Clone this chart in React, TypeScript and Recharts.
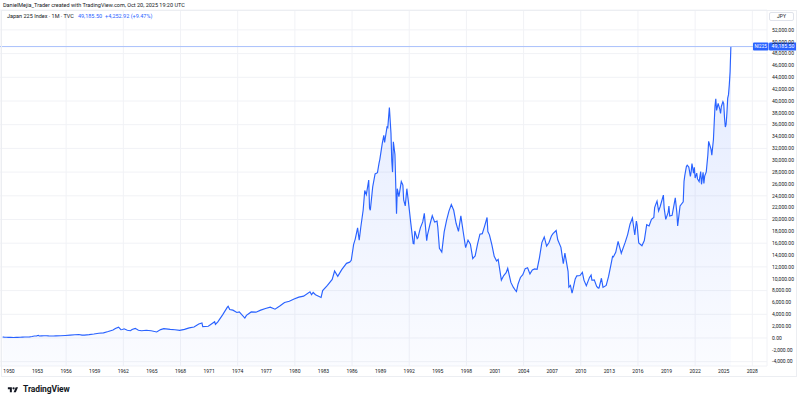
import React from 'react';
import { ComposedChart, Area, XAxis, YAxis, CartesianGrid, ReferenceLine } from 'recharts';

type Pt = [string, number];

const closes1949to1969: Pt[] = [
  ['1949-05', 176], ['1949-07', 140], ['1949-10', 130], ['1949-12', 109],
  ['1950-03', 100], ['1950-07', 85], ['1950-10', 100], ['1950-12', 102],
  ['1951-03', 120], ['1951-06', 150], ['1951-09', 165], ['1951-12', 166],
  ['1952-03', 200], ['1952-06', 260], ['1952-09', 330], ['1952-12', 362],
  ['1953-02', 455], ['1953-03', 340], ['1953-06', 360], ['1953-09', 380], ['1953-12', 377],
  ['1954-03', 350], ['1954-06', 340], ['1954-09', 330], ['1954-12', 356],
  ['1955-06', 380], ['1955-12', 425],
  ['1956-06', 480], ['1956-12', 549],
  ['1957-05', 590], ['1957-09', 480], ['1957-12', 474],
  ['1958-06', 560], ['1958-12', 666],
  ['1959-06', 800], ['1959-12', 874],
  ['1960-06', 1100], ['1960-12', 1356],
  ['1961-03', 1600], ['1961-07', 1829], ['1961-10', 1400], ['1961-12', 1432],
  ['1962-02', 1550], ['1962-06', 1300], ['1962-10', 1220], ['1962-12', 1420],
  ['1963-04', 1630], ['1963-08', 1300], ['1963-12', 1225],
  ['1964-06', 1300], ['1964-12', 1216],
  ['1965-07', 1020], ['1965-12', 1417],
  ['1966-04', 1580], ['1966-12', 1452],
  ['1967-06', 1400], ['1967-12', 1283],
  ['1968-06', 1450], ['1968-12', 1714],
  ['1969-06', 1850], ['1969-12', 2358],
];

const closes1970to1989: Pt[] = [
  ['1970-04', 2534], ['1970-05', 1929], ['1970-12', 1987],
  ['1971-08', 2740], ['1971-09', 2300], ['1971-12', 2714],
  ['1972-06', 3900], ['1972-12', 5208],
  ['1973-01', 5359], ['1973-03', 4800], ['1973-07', 4700], ['1973-12', 4307],
  ['1974-03', 4400], ['1974-10', 3355], ['1974-12', 3817],
  ['1975-06', 4400], ['1975-12', 4359],
  ['1976-06', 4700], ['1976-12', 4991],
  ['1977-06', 5200], ['1977-12', 4866],
  ['1978-06', 5400], ['1978-12', 6002],
  ['1979-06', 6200], ['1979-12', 6570],
  ['1980-06', 6900], ['1980-12', 7063],
  ['1981-08', 7800], ['1981-10', 7300], ['1981-12', 7682],
  ['1982-03', 7300], ['1982-10', 6849], ['1982-12', 8017],
  ['1983-06', 8900], ['1983-12', 9894],
  ['1984-03', 11300], ['1984-07', 10400], ['1984-12', 11543],
  ['1985-06', 12600], ['1985-10', 12800], ['1985-12', 13113],
  ['1986-03', 15800], ['1986-05', 16700], ['1986-08', 18600], ['1986-10', 16500], ['1986-12', 18701],
  ['1987-03', 21600], ['1987-05', 24900], ['1987-07', 24200], ['1987-10', 26646], ['1987-11', 21910], ['1987-12', 21564],
  ['1988-03', 25500], ['1988-06', 27700], ['1988-09', 27900], ['1988-11', 29500], ['1988-12', 30159],
  ['1989-03', 32800], ['1989-05', 34200], ['1989-06', 33000], ['1989-09', 35600], ['1989-10', 35500], ['1989-12', 38916],
];

const closes1990to2009: Pt[] = [
  ['1990-02', 34600], ['1990-03', 29980], ['1990-04', 28000], ['1990-05', 33100], ['1990-07', 31000], ['1990-09', 20984], ['1990-10', 25194], ['1990-12', 23849],
  ['1991-03', 26400], ['1991-05', 25800], ['1991-06', 23300], ['1991-08', 22300], ['1991-10', 25200], ['1991-12', 22984],
  ['1992-03', 19346], ['1992-06', 15951], ['1992-07', 15910], ['1992-08', 18061], ['1992-11', 16767], ['1992-12', 16925],
  ['1993-03', 18591], ['1993-06', 19590], ['1993-08', 21027], ['1993-11', 16408], ['1993-12', 17417],
  ['1994-03', 19112], ['1994-06', 20644], ['1994-09', 19564], ['1994-12', 19723],
  ['1995-01', 18650], ['1995-03', 15140], ['1995-06', 14517], ['1995-09', 17913], ['1995-12', 19868],
  ['1996-03', 21407], ['1996-06', 22531], ['1996-09', 21556], ['1996-12', 19361],
  ['1997-03', 18003], ['1997-06', 20605], ['1997-09', 17888], ['1997-12', 15259],
  ['1998-03', 16527], ['1998-06', 15830], ['1998-09', 13406], ['1998-10', 13564], ['1998-12', 13842],
  ['1999-03', 15837], ['1999-06', 17530], ['1999-09', 17605], ['1999-12', 18934],
  ['2000-03', 20337], ['2000-04', 17974], ['2000-06', 17411], ['2000-09', 15747], ['2000-12', 13786],
  ['2001-03', 12999], ['2001-05', 13262], ['2001-09', 9775], ['2001-12', 10543],
  ['2002-03', 11025], ['2002-05', 11764], ['2002-09', 9383], ['2002-12', 8579],
  ['2003-03', 7973], ['2003-04', 7831], ['2003-06', 9083], ['2003-09', 10219], ['2003-12', 10677],
  ['2004-03', 11715], ['2004-06', 11859], ['2004-09', 10824], ['2004-12', 11489],
  ['2005-03', 11669], ['2005-06', 11584], ['2005-09', 13574], ['2005-12', 16111],
  ['2006-03', 17060], ['2006-06', 15505], ['2006-09', 16128], ['2006-12', 17226],
  ['2007-02', 17604], ['2007-06', 18138], ['2007-08', 16569], ['2007-12', 15308],
  ['2008-03', 12526], ['2008-05', 14338], ['2008-09', 11260], ['2008-10', 8577], ['2008-12', 8860],
  ['2009-02', 7568], ['2009-03', 8110], ['2009-06', 9958], ['2009-08', 10493], ['2009-12', 10546],
];

const closes2010to2025: Pt[] = [
  ['2010-03', 11090], ['2010-05', 9769], ['2010-08', 8824], ['2010-12', 10229],
  ['2011-02', 10624], ['2011-03', 9755], ['2011-06', 9816], ['2011-09', 8700], ['2011-11', 8435], ['2011-12', 8455],
  ['2012-03', 10084], ['2012-05', 8543], ['2012-09', 8870], ['2012-12', 10395],
  ['2013-03', 12398], ['2013-05', 13775], ['2013-06', 13677], ['2013-09', 14456], ['2013-12', 16291],
  ['2014-03', 14828], ['2014-04', 14304], ['2014-09', 16174], ['2014-12', 17451],
  ['2015-03', 19207], ['2015-06', 20236], ['2015-09', 17388], ['2015-11', 19747], ['2015-12', 19034],
  ['2016-02', 16027], ['2016-06', 15576], ['2016-09', 16450], ['2016-12', 19114],
  ['2017-03', 18909], ['2017-06', 20033], ['2017-09', 20356], ['2017-10', 22012], ['2017-12', 22765],
  ['2018-01', 23098], ['2018-03', 21454], ['2018-05', 22202], ['2018-09', 24120], ['2018-10', 21920], ['2018-12', 20015],
  ['2019-03', 21206], ['2019-04', 22259], ['2019-05', 20601], ['2019-08', 20704], ['2019-12', 23657],
  ['2020-02', 21143], ['2020-03', 18917], ['2020-06', 22288], ['2020-10', 22977], ['2020-11', 26434], ['2020-12', 27444],
  ['2021-02', 28966], ['2021-03', 29179], ['2021-05', 28860], ['2021-07', 27284], ['2021-08', 28090], ['2021-09', 29453], ['2021-11', 27822], ['2021-12', 28792],
  ['2022-01', 27002], ['2022-03', 27821], ['2022-04', 26848], ['2022-06', 26393], ['2022-08', 28092], ['2022-09', 25937], ['2022-11', 27969], ['2022-12', 26095],
  ['2023-01', 27327], ['2023-03', 28041], ['2023-05', 30888], ['2023-06', 33189], ['2023-09', 31858], ['2023-10', 30859], ['2023-12', 33464],
  ['2024-01', 36287], ['2024-02', 39166], ['2024-03', 40369], ['2024-04', 38406], ['2024-06', 39583], ['2024-07', 39102],
  ['2024-08', 38648], ['2024-09', 37920], ['2024-10', 39081], ['2024-12', 39895],
  ['2025-01', 39572], ['2025-02', 37156], ['2025-03', 35618], ['2025-04', 36045], ['2025-05', 37965], ['2025-06', 40487],
  ['2025-07', 41069], ['2025-08', 42718], ['2025-09', 44933], ['2025-10', 49185.5],
];

const xTickYears = [1950, 1953, 1956, 1959, 1962, 1965, 1968, 1971, 1974, 1977, 1980, 1983, 1986, 1989, 1992, 1995, 1998, 2001, 2004, 2007, 2010, 2013, 2016, 2019, 2022, 2025, 2028];
const yTickValues = [-4000, -2000, 0, 2000, 4000, 6000, 8000, 10000, 12000, 14000, 16000, 18000, 20000, 22000, 24000, 26000, 28000, 30000, 32000, 34000, 36000, 38000, 40000, 42000, 44000, 46000, 48000, 50000, 52000];

const symbol = 'NI225';
const lastPrice = 49185.5;
const priceChange = 4252.92;
const priceChangePct = 9.47;

const toYear = (d: string) => {
  const [y, m] = d.split('-').map(Number);
  return y + (m - 1) / 12;
};

const data = [...closes1949to1969, ...closes1970to1989, ...closes1990to2009, ...closes2010to2025].map(([d, v]) => ({ t: toYear(d), close: v }));

const fmt = (v: number) => v.toLocaleString('en-US', { minimumFractionDigits: 2, maximumFractionDigits: 2 });

const BLUE = '#2962ff';
const FONT = 'Roboto, "Noto Sans", sans-serif';

const PriceTag = (props: any) => {
  const vb = props.viewBox || {};
  const right = vb.x + vb.width;
  const y = vb.y;
  return (
    <g fontFamily={FONT}>
      <rect x={right - 14} y={y - 4} width={15.5} height={8} fill={BLUE} rx={1} />
      <text x={right - 6.3} y={y + 1.8} fontSize={4.6} fill="#fff" textAnchor="middle">{symbol}</text>
      <rect x={right + 2} y={y - 4} width={28} height={8} fill={BLUE} rx={1} />
      <text x={right + 16} y={y + 1.9} fontSize={5.2} fill="#fff" textAnchor="middle">{fmt(lastPrice)}</text>
    </g>
  );
};

const TVLogo = () => (
  <svg width={16} height={8} viewBox="0 0 36 28" style={{ display: 'block' }}>
    <path d="M14 22H7V11H0V4h14v18z" fill="#131722" />
    <circle cx="20" cy="8" r="4" fill="#131722" />
    <path d="M28 22h-8l7.5-18h8L28 22z" fill="#131722" />
  </svg>
);

export default function App() {
  return (
    <div style={{ position: 'absolute', left: 0, top: 0, width: 800, height: 401, background: '#fff', overflow: 'hidden', fontFamily: FONT }}>
      <ComposedChart width={800} height={401} data={data} margin={{ top: 10, right: 0, bottom: 5, left: 0 }}>
        <defs>
          <linearGradient id="areaFill" x1="0" y1="0" x2="0" y2="1">
            <stop offset="0%" stopColor={BLUE} stopOpacity={0.22} />
            <stop offset="100%" stopColor={BLUE} stopOpacity={0.035} />
          </linearGradient>
        </defs>
        <CartesianGrid stroke="#f1f2f6" strokeWidth={1} />
        <XAxis
          dataKey="t"
          type="number"
          domain={[1949.06, 2029.54]}
          ticks={xTickYears}
          allowDataOverflow
          height={30}
          tickSize={0}
          tickMargin={3}
          axisLine={false}
          tickLine={false}
          tick={{ fontSize: 5, fill: '#131722', fontFamily: FONT }}
        />
        <YAxis
          orientation="right"
          type="number"
          domain={[-4726, 55359]}
          ticks={yTickValues}
          allowDataOverflow
          width={33}
          tickSize={0}
          tickMargin={5}
          axisLine={false}
          tickLine={false}
          tickFormatter={fmt}
          tick={{ fontSize: 5, fill: '#131722', fontFamily: FONT }}
        />
        <ReferenceLine y={lastPrice} stroke="#a9c0fb" strokeWidth={1} label={<PriceTag />} />
        <Area
          type="linear"
          dataKey="close"
          stroke={BLUE}
          strokeWidth={1.15}
          fill="url(#areaFill)"
          baseValue="dataMin"
          isAnimationActive={false}
          dot={false}
          activeDot={false}
        />
      </ComposedChart>

      <div style={{ position: 'absolute', left: 1, top: 10, width: 796, height: 367, border: '1px solid #eceef2', boxSizing: 'border-box', pointerEvents: 'none' }} />

      <div style={{ position: 'absolute', left: 3, top: 1, fontSize: 5.5, color: '#131722', whiteSpace: 'nowrap', lineHeight: '8px' }}>
        DanielMejia_Trader created with TradingView.com, Oct 20, 2025 19:20 UTC
      </div>
      <div style={{ position: 'absolute', left: 7, top: 12, fontSize: 5.5, color: '#131722', whiteSpace: 'nowrap', lineHeight: '8px' }}>
        Japan 225 Index · 1M · TVC
        <span style={{ color: BLUE, marginLeft: 4 }}>{fmt(lastPrice)}</span>
        <span style={{ color: BLUE, marginLeft: 3 }}>+{fmt(priceChange)} (+{priceChangePct.toFixed(2)}%)</span>
      </div>
      <div style={{ position: 'absolute', left: 769, top: 12, width: 25, height: 9, border: '1px solid #e0e3eb', borderRadius: 2, boxSizing: 'border-box', fontSize: 5, color: '#131722', textAlign: 'center', lineHeight: '7px' }}>
        JPY
      </div>
      <div style={{ position: 'absolute', left: 5, top: 385, display: 'flex', alignItems: 'center', gap: 2 }}>
        <TVLogo />
        <span style={{ fontSize: 8.5, fontWeight: 700, color: '#131722', lineHeight: '9px', letterSpacing: -0.1 }}>TradingView</span>
      </div>
    </div>
  );
}
